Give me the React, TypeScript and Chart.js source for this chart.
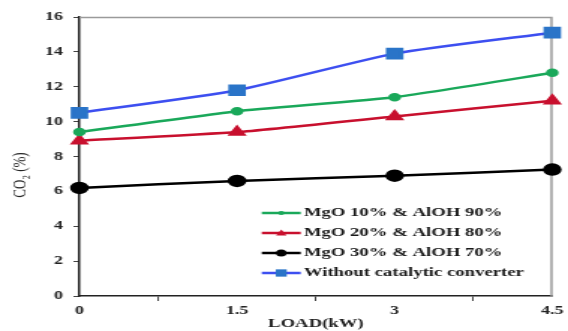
import { useEffect, useRef } from "react";
import { Chart, registerables } from "chart.js";
Chart.register(...registerables);

const loads = ["0", "1.5", "3", "4.5"];
const mgo10 = [9.4, 10.6, 11.4, 12.8];
const mgo20 = [8.9, 9.4, 10.3, 11.2];
const mgo30 = [6.2, 6.6, 6.9, 7.25];
const without = [10.5, 11.8, 13.9, 15.1];
const seriesNames = [
  "MgO 10% & AlOH 90%",
  "MgO 20% & AlOH 80%",
  "MgO 30% & AlOH 70%",
  "Without catalytic converter",
];
const yTicks = [0, 2, 4, 6, 8, 10, 12, 14, 16];
const yTitle = "CO₂ (%)";

const SERIF = "'Liberation Serif', 'Times New Roman', serif";
const W = 568;
const H = 331;
const S = 1.5; // horizontal stretch of the reference image
const IW = Math.round(W / S);

const frame = {
  id: "frame",
  beforeDatasetsDraw(chart: any) {
    const { ctx, chartArea: a } = chart;
    ctx.save();
    ctx.strokeStyle = "#9a9a9a";
    ctx.lineWidth = 1.5;
    ctx.beginPath();
    ctx.moveTo(a.left, a.top + 0.5);
    ctx.lineTo(a.right - 0.5, a.top + 0.5);
    ctx.lineTo(a.right - 0.5, a.bottom);
    ctx.stroke();
    ctx.restore();
  },
  afterDraw(chart: any) {
    const { ctx } = chart;
    const ds = chart.data.datasets;
    ctx.save();
    // y axis title
    ctx.save();
    ctx.translate(20 / S, 175);
    ctx.rotate(-Math.PI / 2);
    ctx.font = `13px ${SERIF}`;
    ctx.fillStyle = "#222";
    ctx.textAlign = "center";
    ctx.textBaseline = "middle";
    ctx.fillText(yTitle, 0, 0);
    ctx.restore();
    // legend
    ctx.font = `bold 12.5px ${SERIF}`;
    ctx.textBaseline = "middle";
    const x0 = 262 / S, x1 = 301 / S, y0 = 213, dy = 20;
    ds.forEach((d: any, i: number) => {
      const y = y0 + i * dy;
      ctx.strokeStyle = d.borderColor;
      ctx.lineWidth = 2.5;
      ctx.beginPath();
      ctx.moveTo(x0, y);
      ctx.lineTo(x1, y);
      ctx.stroke();
      ctx.fillStyle = d.pointBackgroundColor;
      const r = d.pointRadius * 0.7;
      const cx = (x0 + x1) / 2;
      ctx.beginPath();
      if (d.pointStyle === "rect") ctx.rect(cx - r * 0.8, y - r * 0.8, 1.6 * r, 1.6 * r);
      else if (d.pointStyle === "triangle") {
        ctx.moveTo(cx, y - r);
        ctx.lineTo(cx + r, y + r * 0.7);
        ctx.lineTo(cx - r, y + r * 0.7);
        ctx.closePath();
      } else ctx.arc(cx, y, r, 0, Math.PI * 2);
      ctx.fill();
      ctx.fillStyle = "#1a1a1a";
      ctx.fillText(seriesNames[i], x1 + 2, y);
    });
    ctx.restore();
  },
};

export default function App() {
  const ref = useRef<HTMLCanvasElement>(null);
  useEffect(() => {
    const chart = new Chart(ref.current!, {
      type: "line",
      data: {
        labels: loads,
        datasets: [
          { label: seriesNames[0], data: mgo10, borderColor: "#1aa85a", backgroundColor: "#1aa85a", pointBackgroundColor: "#1aa85a", pointBorderColor: "#1aa85a", pointStyle: "circle", pointRadius: 3, borderWidth: 2.5, tension: 0.15 },
          { label: seriesNames[1], data: mgo20, borderColor: "#c8102e", backgroundColor: "#c8102e", pointBackgroundColor: "#c8102e", pointBorderColor: "#c8102e", pointStyle: "triangle", pointRadius: 5, borderWidth: 2.5, tension: 0.15 },
          { label: seriesNames[2], data: mgo30, borderColor: "#000000", backgroundColor: "#000000", pointBackgroundColor: "#000000", pointBorderColor: "#000000", pointStyle: "circle", pointRadius: 5, borderWidth: 2.5, tension: 0.15 },
          { label: seriesNames[3], data: without, borderColor: "#3d4ff0", backgroundColor: "#2a74c8", pointBackgroundColor: "#2a74c8", pointBorderColor: "#2a74c8", pointStyle: "rect", pointRadius: 6.5, borderWidth: 2.5, tension: 0.2 },
        ] as any,
      },
      options: {
        animation: false,
        responsive: false,
        devicePixelRatio: 1,
        layout: { padding: { top: 17, right: IW - Math.round(555 / S), left: 0, bottom: 0 } },
        plugins: { legend: { display: false }, tooltip: { enabled: false } },
        scales: {
          x: {
            type: "category",
            offset: false,
            border: { color: "#222", width: 1.5 },
            grid: { offset: true, drawOnChartArea: false, tickLength: 5, color: "#444" },
            ticks: { color: "#222", font: { family: SERIF, size: 12, weight: "bold" }, padding: 3, maxRotation: 0, autoSkip: false },
            title: { display: true, text: "LOAD(kW)", color: "#222", font: { family: SERIF, size: 12.5, weight: "bold" }, padding: { top: -3, bottom: 0 } },
            afterFit: (s: any) => { s.height = 35; },
          },
          y: {
            min: 0,
            max: 16,
            afterBuildTicks: (s: any) => { s.ticks = yTicks.map((v) => ({ value: v })); },
            border: { color: "#222", width: 1.5 },
            grid: { drawOnChartArea: false, tickLength: 4, color: "#444" },
            ticks: { color: "#222", font: { family: SERIF, size: 12, weight: "bold" }, padding: 7 },
            title: { display: false },
            afterFit: (s: any) => { s.width = Math.round(79 / S); },
          },
        },
      },
      plugins: [frame],
    });
    return () => chart.destroy();
  }, []);
  return (
    <div style={{ position: "fixed", left: 0, top: 0, width: W, height: H, background: "#fff" }}>
      <canvas ref={ref} width={IW} height={H} style={{ width: W + "px", height: H + "px", display: "block" }} />
    </div>
  );
}
